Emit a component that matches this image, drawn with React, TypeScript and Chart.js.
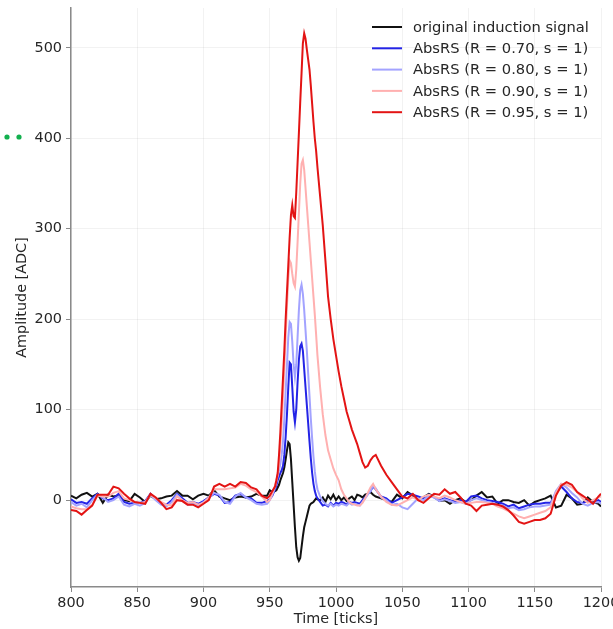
import React, { useEffect, useRef } from "react";
import { Chart, registerables } from "chart.js";

Chart.register(...registerables);

// Time axis (ticks)
const TIME = [
  800, 804, 808, 812, 816, 820, 824, 828, 832, 836, 840, 844, 848, 852, 856, 860, 864, 868, 872, 876,
  880, 884, 888, 892, 896, 900, 904, 908, 912, 916, 920, 924, 928, 932, 936, 940, 944, 948,
  950, 952, 954,
  955, 956, 957, 958, 959, 960, 961, 962, 963, 964, 965, 966, 967, 968, 969, 970, 971, 972, 973, 974,
  975, 976, 977, 978, 979, 980, 981, 982, 983, 984, 985, 986,
  988, 990, 992, 994, 996, 998, 1000, 1002, 1004, 1006, 1008, 1010, 1012, 1014, 1016, 1018, 1020, 1022,
  1024, 1026, 1028, 1030,
  1034, 1038, 1042, 1046, 1050, 1054, 1058, 1062, 1066, 1070, 1074, 1078, 1082, 1086, 1090, 1094, 1098,
  1102, 1106, 1110, 1114, 1118, 1122, 1126, 1130, 1134, 1138, 1142, 1146, 1150, 1154, 1158, 1162, 1166,
  1170, 1174, 1178, 1182, 1186, 1190, 1194, 1198, 1200,
];

const ORIGINAL = [
  5, 2, 6, 8, 4, 7, -3, 6, 4, 5, 0, -1, 7, 3, -2, 5, 1, 2, 4, 5,
  10, 5, 5, 1, 5, 7, 5, 11, 4, 2, 0, 3, 4, 3, 4, 7, 5, 5,
  11, 9, 10,
  11, 14, 17, 22, 26, 30, 36, 45, 55, 64, 62, 45, 20, -5, -30, -52, -63, -67, -64, -52,
  -40, -30, -24, -18, -12, -6, -4, -3, -2, 0, 2, 1,
  0, 3, -2, 5, 1, 6, 0, 4, 0, 3, -1, 2, 4, 0, 6, 5, 3, 6, 7, 9, 6, 4,
  2, 0, -2, 6, 2, 9, 5, 0, 3, 7, 4, -1, 0, -4, 0, 2, -2, 0, 5, 9,
  3, 4, -4, 0, 0, -2, -3, 0, -6, -2, 0, 2, 5, -8, -6, 6, 2, -5, -4, 3, -2, -4, -7,
];

const ABS_070 = [
  1, -3, -2, -4, 2, 7, 2, 0, 2, 7, -2, -4, -3, -3, -1, 7, 1, -3, -5, 0,
  7, 2, -3, -2, -4, -1, 3, 7, 5, -3, -2, 5, 7, 3, 2, -3, -3, -1,
  1, 5, 12,
  16, 22, 26, 30, 33, 38, 50, 70, 95, 125, 152, 150, 125, 98, 86, 100, 130, 155, 170, 173,
  165, 145, 125, 105, 85, 65, 46, 30, 18, 10, 5, 2,
  -2, -6, -5, -7, -3, -6, -3, -4, -2, -3, -5, -2, -3, -2, -3, -4, 0, 3, 7, 10, 15, 12,
  4, 2, -3, 0, 3, 7, 6, 4, 2, 6, 3, 0, 2, 0, -2, 0, -2, 4, 5, 2,
  0, -1, -2, -4, -7, -5, -9, -7, -5, -4, -4, -3, -3, 8, 15, 9, 2, -2, -3, -1, -3, 0, -2,
];

const ABS_080 = [
  -2, -6, -4, -8, 0, 6, 3, -2, 0, 4, -5, -7, -4, -6, -3, 6, 0, -5, -7, -2,
  6, 0, -5, -4, -6, -2, 2, 8, 6, -2, -4, 4, 8, 3, 0, -4, -5, -4,
  0, 6, 14,
  20, 27, 33, 40, 50, 65, 90, 120, 150, 180, 197, 195, 175, 150, 136, 150, 180, 210, 232, 238,
  228, 210, 188, 165, 140, 115, 90, 68, 48, 32, 20, 12,
  4, -1, -4, -6, -4, -7, -5, -6, -4, -5, -6, -3, -5, -4, -5, -6, -2, 2, 6, 10, 16, 13,
  3, 0, -5, -4, -8, -10, -4, 2, 0, 5, 3, -1, 1, -1, -3, -2, -4, 0, 2, 0,
  -2, -3, -5, -6, -9, -8, -11, -10, -8, -7, -7, -6, -5, 10, 18, 14, 8, 3, -4, -6, -3, -2, -4,
];

const ABS_090 = [
  -7, -9, -10, -10, -5, 5, 4, 4, 8, 10, 2, 0, -2, -3, -2, 6, 2, -2, -5, -6,
  4, 0, -3, -2, -5, -3, 3, 12, 12, 12, 13, 14, 18, 16, 12, 9, 4, -2,
  0, 8, 16,
  22, 28, 40, 60, 85, 115, 145, 180, 215, 245, 265, 262, 250, 240, 236, 255, 285, 318, 350, 372,
  376, 365, 345, 325, 305, 285, 265, 245, 225, 205, 183, 160,
  125, 95, 72, 55, 45, 35, 28, 22, 12, 6, 2, -2, -4, -5, -6, -6, -3, 2, 8, 14, 18, 12,
  4, -2, -5, -6, -3, 0, 3, 0, 4, 6, 4, 2, 5, 3, 0, -2, -4, -3, -2, -2,
  -3, -4, -7, -9, -12, -15, -18, -20, -18, -16, -14, -12, -8, 8, 18, 17, 14, 9, 2, -3, 0, 3, 4,
];

const ABS_095 = [
  -11, -12, -16, -11, -6, 6, 6, 6, 15, 13, 7, 2, -2, -3, -4, 7, 3, -3, -10, -8,
  0, -1, -5, -5, -8, -4, 0, 15, 18, 15, 18, 15, 20, 19, 14, 12, 5, 2,
  5, 10, 15,
  22, 30, 50, 75, 105, 135, 165, 200, 230, 260, 290, 315, 326, 314, 312, 340, 373, 406, 440, 472,
  505, 516, 510, 498, 487, 476, 458, 438, 418, 400, 386, 368,
  336, 304, 265, 225, 200, 178, 160, 142, 126, 112, 98, 88, 78, 70, 62, 52, 42, 36, 38, 44, 48, 50,
  38, 28, 20, 12, 4, 2, 7, 0, -3, 2, 7, 6, 12, 7, 9, 3, -4, -6, -12, -6,
  -5, -4, -5, -7, -11, -17, -24, -26, -24, -22, -22, -20, -15, 5, 16, 20, 17, 9, 5, 1, -4, 4, 7,
];

const SERIES_LABELS = [
  "original induction signal",
  "AbsRS (R = 0.70, s = 1)",
  "AbsRS (R = 0.80, s = 1)",
  "AbsRS (R = 0.90, s = 1)",
  "AbsRS (R = 0.95, s = 1)",
];
const SERIES_VALUES = [ORIGINAL, ABS_070, ABS_080, ABS_090, ABS_095];
const SERIES_COLORS = ["#111111", "#2424e6", "#a3a3ff", "#ffb0b0", "#e31414"];

const X_TICKS = [800, 850, 900, 950, 1000, 1050, 1100, 1150, 1200];
const Y_TICKS = [0, 100, 200, 300, 400, 500];

const FONT = "'DejaVu Sans', sans-serif";

export default function App() {
  const ref = useRef<HTMLCanvasElement>(null);

  useEffect(() => {
    if (!ref.current) return;

    const legendPlugin = {
      id: "insideLegend",
      afterDraw(chart: any) {
        const ctx = chart.ctx;
        ctx.save();
        // stray green markers at the left edge
        ctx.fillStyle = "#12b04e";
        [7, 19].forEach((x) => {
          ctx.beginPath();
          ctx.arc(x, 137, 2.6, 0, Math.PI * 2);
          ctx.fill();
        });
        ctx.font = `14.7px ${FONT}`;
        ctx.textBaseline = "middle";
        ctx.textAlign = "left";
        chart.data.datasets.forEach((ds: any, i: number) => {
          const y = 27 + i * 21.3;
          ctx.strokeStyle = ds.borderColor;
          ctx.lineWidth = 2;
          ctx.beginPath();
          ctx.moveTo(372, y);
          ctx.lineTo(402, y);
          ctx.stroke();
          ctx.fillStyle = "#262626";
          ctx.fillText(ds.label, 413, y + 1);
        });
        ctx.restore();
      },
    };

    const chart = new Chart(ref.current, {
      type: "line",
      data: {
        datasets: SERIES_VALUES.map((vals, i) => ({
          label: SERIES_LABELS[i],
          data: TIME.map((t, k) => ({ x: t, y: vals[k] })),
          borderColor: SERIES_COLORS[i],
          backgroundColor: SERIES_COLORS[i],
          borderWidth: 2,
          pointRadius: 0,
          tension: 0,
          fill: false,
          order: SERIES_VALUES.length - 1 - i,
        })),
      },
      options: {
        responsive: false,
        animation: false,
        events: [],
        layout: { padding: { top: 8, right: 12, left: 0, bottom: 0 } },
        plugins: {
          legend: { display: false },
          tooltip: { enabled: false },
        },
        scales: {
          x: {
            type: "linear",
            min: 800,
            max: 1200,
            afterBuildTicks: (scale: any) => {
              scale.ticks = X_TICKS.map((v) => ({ value: v }));
            },
            afterFit: (scale: any) => {
              scale.height = 42;
              scale.paddingLeft = 0;
              scale.paddingRight = 0;
            },
            grid: {
              color: "rgba(0,0,0,0.05)",
              tickColor: "#8a8a8a",
              tickLength: 5,
              lineWidth: 1,
            },
            border: { color: "#8a8a8a", width: 1.5 },
            ticks: {
              color: "#262626",
              font: { family: FONT, size: 14.4 },
              padding: 3,
              maxRotation: 0,
              autoSkip: false,
              callback: (v: any) => String(v),
            },
            title: {
              display: true,
              text: "Time [ticks]",
              color: "#262626",
              font: { family: FONT, size: 14.4 },
              padding: { top: 0, bottom: 1.4 },
            },
          },
          y: {
            type: "linear",
            min: -96,
            max: 544,
            afterBuildTicks: (scale: any) => {
              scale.ticks = Y_TICKS.map((v) => ({ value: v }));
            },
            afterFit: (scale: any) => {
              scale.width = 71;
              scale.paddingTop = 0;
              scale.paddingBottom = 0;
            },
            grid: {
              color: "rgba(0,0,0,0.05)",
              tickColor: "#8a8a8a",
              tickLength: 5,
              lineWidth: 1,
            },
            border: { color: "#8a8a8a", width: 1.5 },
            ticks: {
              color: "#262626",
              font: { family: FONT, size: 14.4 },
              padding: 4,
              autoSkip: false,
              callback: (v: any) => String(v),
            },
            title: {
              display: true,
              text: "Amplitude [ADC]",
              color: "#262626",
              font: { family: FONT, size: 14.4 },
              padding: { top: 13.4, bottom: 0 },
            },
          },
        },
      },
      plugins: [legendPlugin],
    });

    return () => chart.destroy();
  }, []);

  return (
    <div
      style={{
        position: "fixed",
        left: 0,
        top: 0,
        width: 613,
        height: 629,
        background: "#ffffff",
        overflow: "hidden",
      }}
    >
      <canvas ref={ref} width={613} height={629} style={{ display: "block" }} />
    </div>
  );
}
